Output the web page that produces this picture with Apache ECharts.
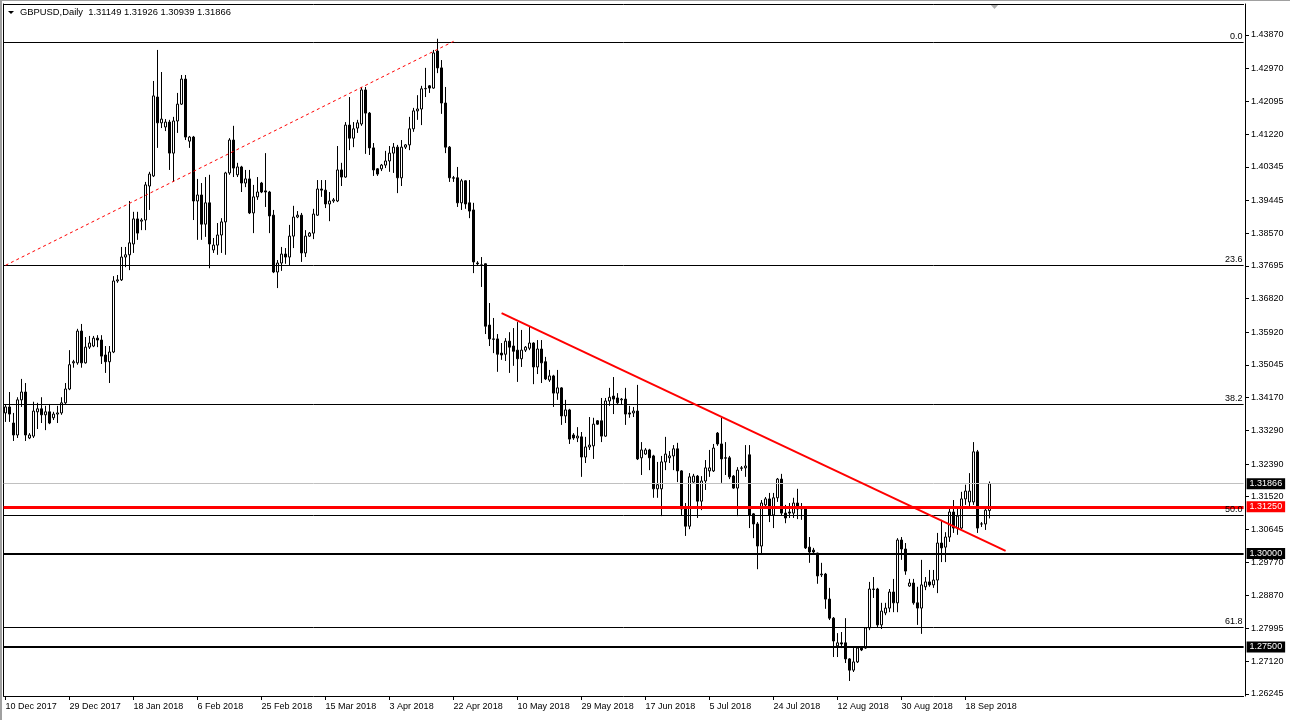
<!DOCTYPE html>
<html><head><meta charset="utf-8">
<script src="https://cdn.jsdelivr.net/npm/echarts@6/dist/echarts.min.js"></script>
<style>html,body{margin:0;padding:0;background:#fff;}#c{width:1290px;height:720px;}</style>
</head><body><div id="c"></div>
<script>
// ---- data ----
const headerText = 'GBPUSD,Daily  1.31149 1.31926 1.30939 1.31866';
const xLabels = ['10 Dec 2017','29 Dec 2017','18 Jan 2018','6 Feb 2018','25 Feb 2018','15 Mar 2018','3 Apr 2018','22 Apr 2018','10 May 2018','29 May 2018','17 Jun 2018','5 Jul 2018','24 Jul 2018','12 Aug 2018','30 Aug 2018','18 Sep 2018'];
const yTicks = [1.43870,1.42970,1.42095,1.41220,1.40345,1.39445,1.38570,1.37695,1.36820,1.35920,1.35045,1.34170,1.33290,1.32390,1.31520,1.30645,1.29770,1.28870,1.27995,1.27120,1.26245];
const yRange = [1.26188, 1.44699];
const totalSlots = 310;
// [open, close, low, high]
const ohlc = [
[1.3376,1.3392,1.3352,1.3398],[1.3392,1.3373,1.3352,1.3432],[1.3349,1.3317,1.3301,1.3376],[1.3317,1.3411,1.3309,1.3418],
[1.3411,1.3432,1.3392,1.3467],[1.3432,1.3317,1.3301,1.3456],[1.3309,1.3317,1.3306,1.3322],[1.3314,1.3381,1.3309,1.3406],
[1.3379,1.3387,1.3333,1.3403],[1.3387,1.3371,1.3349,1.3418],[1.3371,1.3379,1.3330,1.3395],[1.3379,1.3349,1.3346,1.3400],
[1.3363,1.3373,1.3357,1.3379],[1.3373,1.3376,1.3349,1.3395],[1.3376,1.3403,1.3371,1.3418],[1.3403,1.3440,1.3400,1.3456],
[1.3440,1.3505,1.3437,1.3544],[1.3510,1.3513,1.3497,1.3518],[1.3510,1.3595,1.3505,1.3601],[1.3595,1.3510,1.3497,1.3614],
[1.3510,1.3552,1.3508,1.3579],[1.3552,1.3563,1.3547,1.3582],[1.3555,1.3576,1.3552,1.3582],[1.3576,1.3571,1.3552,1.3584],
[1.3571,1.3528,1.3507,1.3584],[1.3531,1.3513,1.3483,1.3555],[1.3513,1.3539,1.3456,1.3555],[1.3539,1.3729,1.3536,1.3742],
[1.3729,1.3732,1.3724,1.3745],[1.3732,1.3793,1.3729,1.3820],[1.3793,1.3799,1.3766,1.3820],[1.3799,1.3831,1.3758,1.3943],
[1.3828,1.3895,1.3804,1.3914],[1.3895,1.3857,1.3839,1.3914],[1.3889,1.3892,1.3865,1.3897],[1.3892,1.3986,1.3865,1.3994],
[1.3983,1.4015,1.3919,1.4021],[1.4010,1.4224,1.4007,1.4264],[1.4221,1.4152,1.4085,1.4347],[1.4152,1.4162,1.4138,1.4288],
[1.4141,1.4154,1.4130,1.4162],[1.4154,1.4071,1.4026,1.4160],[1.4071,1.4157,1.3994,1.4168],[1.4157,1.4202,1.4125,1.4232],
[1.4202,1.4269,1.4200,1.4280],[1.4269,1.4114,1.4106,1.4280],[1.4103,1.4114,1.4085,1.4117],[1.4114,1.3943,1.3892,1.4117],
[1.3943,1.3959,1.3839,1.4002],[1.3959,1.3881,1.3839,1.3991],[1.3881,1.3938,1.3847,1.4007],[1.3938,1.3828,1.3763,1.4013],
[1.3812,1.3825,1.3804,1.3844],[1.3825,1.3852,1.3799,1.3884],[1.3852,1.3887,1.3804,1.3897],[1.3887,1.4018,1.3799,1.4021],
[1.4018,1.4106,1.4013,1.4111],[1.4106,1.4031,1.4007,1.4144],[1.4013,1.4034,1.4007,1.4045],[1.4034,1.3991,1.3967,1.4037],
[1.3991,1.4002,1.3980,1.4026],[1.4002,1.3911,1.3908,1.4026],[1.3911,1.3954,1.3857,1.3986],[1.3954,1.3967,1.3946,1.4007],
[1.3991,1.3967,1.3964,1.3994],[1.3970,1.3967,1.3927,1.4071],[1.3967,1.3903,1.3857,1.3970],[1.3905,1.3753,1.3750,1.3919],
[1.3753,1.3777,1.3710,1.3785],[1.3777,1.3801,1.3756,1.3820],[1.3801,1.3793,1.3775,1.3817],[1.3793,1.3849,1.3769,1.3879],
[1.3849,1.3900,1.3817,1.3930],[1.3900,1.3905,1.3897,1.3916],[1.3905,1.3804,1.3780,1.3911],[1.3804,1.3849,1.3793,1.3865],
[1.3849,1.3857,1.3847,1.3860],[1.3857,1.3908,1.3841,1.3922],[1.3905,1.3975,1.3903,1.3999],[1.3975,1.3972,1.3954,1.3999],
[1.3972,1.3935,1.3924,1.3999],[1.3935,1.3943,1.3889,1.3967],[1.3943,1.3946,1.3938,1.3951],[1.3943,1.4026,1.3940,1.4090],
[1.4026,1.4007,1.3983,1.4045],[1.4007,1.4146,1.4005,1.4154],[1.4146,1.4111,1.4079,1.4221],[1.4111,1.4136,1.4087,1.4154],
[1.4138,1.4152,1.4125,1.4160],[1.4149,1.4240,1.4144,1.4248],[1.4240,1.4178,1.4069,1.4248],[1.4178,1.4085,1.4066,1.4181],
[1.4085,1.4026,1.4010,1.4098],[1.4029,1.4015,1.4010,1.4031],[1.4029,1.4039,1.4023,1.4042],[1.4039,1.4050,1.4031,1.4077],
[1.4050,1.4071,1.4021,1.4090],[1.4071,1.4087,1.4018,1.4098],[1.4087,1.4005,1.3964,1.4093],[1.4005,1.4087,1.3983,1.4106],
[1.4087,1.4093,1.4082,1.4095],[1.4093,1.4136,1.4079,1.4168],[1.4136,1.4184,1.4128,1.4192],[1.4184,1.4189,1.4160,1.4226],
[1.4189,1.4243,1.4146,1.4251],[1.4243,1.4244,1.4221,1.4299],[1.4251,1.4245,1.4232,1.4253],[1.4245,1.4339,1.4243,1.4347],
[1.4344,1.4299,1.4285,1.4377],[1.4299,1.4205,1.4176,1.4320],[1.4205,1.4087,1.4071,1.4248],[1.4087,1.4005,1.3994,1.4090],
[1.4005,1.4004,1.3994,1.4010],[1.4005,1.3938,1.3927,1.4034],[1.3938,1.3997,1.3919,1.4002],[1.3997,1.3935,1.3922,1.3998],
[1.3938,1.3916,1.3897,1.3999],[1.3919,1.3780,1.3750,1.3938],[1.3777,1.3775,1.3769,1.3782],[1.3772,1.3771,1.3713,1.3793],
[1.3775,1.3608,1.3587,1.3776],[1.3611,1.3574,1.3555,1.3670],[1.3574,1.3573,1.3536,1.3630],[1.3574,1.3533,1.3486,1.3587],
[1.3536,1.3531,1.3518,1.3563],[1.3533,1.3568,1.3515,1.3576],[1.3568,1.3552,1.3483,1.3592],[1.3555,1.3541,1.3502,1.3603],
[1.3544,1.3521,1.3459,1.3619],[1.3521,1.3544,1.3499,1.3598],[1.3544,1.3552,1.3539,1.3555],[1.3549,1.3563,1.3544,1.3608],
[1.3563,1.3499,1.3453,1.3565],[1.3499,1.3547,1.3480,1.3571],[1.3547,1.3510,1.3456,1.3571],[1.3513,1.3467,1.3464,1.3526],
[1.3464,1.3475,1.3459,1.3491],[1.3475,1.3429,1.3392,1.3478],[1.3429,1.3443,1.3411,1.3491],[1.3443,1.3368,1.3344,1.3445],
[1.3368,1.3384,1.3349,1.3411],[1.3384,1.3306,1.3293,1.3387],[1.3317,1.3309,1.3304,1.3322],[1.3309,1.3314,1.3298,1.3338],
[1.3312,1.3258,1.3205,1.3325],[1.3258,1.3285,1.3242,1.3312],[1.3285,1.3290,1.3277,1.3365],[1.3288,1.3346,1.3253,1.3363],
[1.3355,1.3346,1.3344,1.3357],[1.3355,1.3314,1.3298,1.3416],[1.3314,1.3408,1.3312,1.3416],[1.3408,1.3418,1.3395,1.3443],
[1.3421,1.3413,1.3373,1.3472],[1.3416,1.3403,1.3398,1.3429],[1.3411,1.3413,1.3398,1.3416],[1.3413,1.3373,1.3344,1.3443],
[1.3376,1.3373,1.3363,1.3395],[1.3376,1.3381,1.3365,1.3392],[1.3381,1.3253,1.3250,1.3451],[1.3256,1.3277,1.3210,1.3298],
[1.3266,1.3277,1.3264,1.3282],[1.3277,1.3256,1.3223,1.3280],[1.3261,1.3173,1.3149,1.3264],[1.3173,1.3184,1.3149,1.3245],
[1.3173,1.3245,1.3100,1.3261],[1.3245,1.3266,1.3223,1.3312],[1.3256,1.3261,1.3242,1.3274],[1.3261,1.3280,1.3223,1.3290],
[1.3280,1.3221,1.3191,1.3296],[1.3221,1.3119,1.3103,1.3223],[1.3119,1.3073,1.3047,1.3135],[1.3073,1.3205,1.3065,1.3215],
[1.3191,1.3207,1.3189,1.3213],[1.3207,1.3140,1.3095,1.3210],[1.3140,1.3194,1.3116,1.3207],[1.3194,1.3229,1.3170,1.3250],
[1.3221,1.3229,1.3205,1.3277],[1.3221,1.3282,1.3218,1.3293],[1.3322,1.3293,1.3288,1.3325],[1.3293,1.3253,1.3189,1.3363],
[1.3256,1.3255,1.3210,1.3298],[1.3256,1.3205,1.3199,1.3261],[1.3207,1.3175,1.3173,1.3210],[1.3175,1.3223,1.3100,1.3231],
[1.3229,1.3228,1.3221,1.3234],[1.3229,1.3234,1.3205,1.3290],[1.3264,1.3103,1.3068,1.3290],[1.3106,1.3079,1.3041,1.3108],
[1.3079,1.3020,1.2958,1.3084],[1.3020,1.3135,1.2996,1.3143],[1.3130,1.3146,1.3124,1.3151],[1.3146,1.3103,1.3084,1.3162],
[1.3103,1.3149,1.3068,1.3162],[1.3149,1.3199,1.3138,1.3202],[1.3199,1.3108,1.3103,1.3213],[1.3108,1.3095,1.3081,1.3130],
[1.3111,1.3108,1.3095,1.3135],[1.3108,1.3135,1.3095,1.3149],[1.3135,1.3119,1.3092,1.3173],[1.3119,1.3122,1.3090,1.3135],
[1.3122,1.3015,1.3012,1.3124],[1.3017,1.3004,1.2975,1.3044],[1.3009,1.3004,1.2996,1.3015],[1.3001,1.2940,1.2919,1.3002],
[1.2943,1.2945,1.2937,1.2975],[1.2945,1.2878,1.2852,1.2948],[1.2878,1.2827,1.2822,1.2908],[1.2827,1.2766,1.2723,1.2830],
[1.2753,1.2761,1.2723,1.2787],[1.2761,1.2758,1.2747,1.2790],[1.2761,1.2718,1.2707,1.2827],[1.2718,1.2688,1.2659,1.2720],
[1.2688,1.2710,1.2683,1.2747],[1.2710,1.2747,1.2707,1.2750],[1.2747,1.2742,1.2739,1.2750],[1.2747,1.2801,1.2745,1.2803],
[1.2801,1.2905,1.2795,1.2924],[1.2905,1.2904,1.2881,1.2937],[1.2905,1.2809,1.2803,1.2908],[1.2809,1.2846,1.2798,1.2868],
[1.2841,1.2854,1.2835,1.2868],[1.2854,1.2897,1.2843,1.2905],[1.2897,1.2868,1.2843,1.2932],[1.2868,1.3036,1.2843,1.3041],
[1.3036,1.3012,1.2983,1.3044],[1.3012,1.2953,1.2943,1.3028],[1.2913,1.2921,1.2911,1.2932],[1.2921,1.2868,1.2863,1.2932],
[1.2868,1.2854,1.2809,1.2911],[1.2854,1.2916,1.2785,1.2983],[1.2911,1.2924,1.2902,1.2937],[1.2924,1.2916,1.2911,1.2956],
[1.2916,1.2929,1.2908,1.2956],[1.2929,1.3028,1.2894,1.3055],[1.3028,1.3015,1.2977,1.3090],[1.3017,1.3044,1.2977,1.3057],
[1.3044,1.3111,1.3031,1.3124],[1.3111,1.3068,1.3055,1.3143],[1.3068,1.3100,1.3050,1.3120],[1.3068,1.3146,1.3065,1.3165],
[1.3146,1.3167,1.3130,1.3184],[1.3138,1.3167,1.3124,1.3215],[1.3138,1.3272,1.3130,1.3298],[1.3272,1.3068,1.3055,1.3277],
[1.3079,1.3079,1.3071,1.3084],[1.3079,1.3116,1.3063,1.3124],[1.31149,1.31866,1.30939,1.31926]
];
const fibNames  = ['0.0','23.6','38.2','50.0','61.8'];
const fibValues = [1.4368,1.3771,1.3400,1.3103,1.2802];
const bidPrice = 1.31866;
const redLevel = 1.31250;
const blackLevels = [1.30000, 1.27500];
const dottedTrend = [[0,1.3771],[112,1.4370]];
const redTrend = [[124,1.3643],[250,1.3007]];

// ---- categories (trading days, Sunday-Friday) ----
const MON = ['Jan','Feb','Mar','Apr','May','Jun','Jul','Aug','Sep','Oct','Nov','Dec'];
const categories = [];
let t = Date.UTC(2017,11,10);
while (categories.length < totalSlots) {
  const d = new Date(t);
  const wd = d.getUTCDay(), m = d.getUTCMonth(), dd = d.getUTCDate();
  if (wd !== 6 && !(m === 11 && dd === 25) && !(m === 0 && dd === 1)) {
    categories.push(dd + ' ' + MON[m] + ' ' + d.getUTCFullYear());
  }
  t += 86400000;
}

const FONT = 'Liberation Sans';
const labelIdx = (i) => i % 16 === 0 && (i / 16) < xLabels.length;

const chart = echarts.init(document.getElementById('c'), null, {renderer:'canvas'});

const markData = [];
fibNames.forEach((n, k) => {
  markData.push({yAxis: fibValues[k], lineStyle:{color:'#000', width:1, type:'solid'},
    label:{show:true, position:'insideEndTop', formatter:n, color:'#000', fontSize:9, fontFamily:FONT, distance:[1,1]}});
});
markData.push({yAxis: bidPrice, lineStyle:{color:'#c0c0c0', width:1, type:'solid'},
  label:{show:true, position:'end', distance:3, formatter: bidPrice.toFixed(5), color:'#fff', backgroundColor:'#000', padding:[1,3,0,3], fontSize:9, fontFamily:FONT, lineHeight:10}});
markData.push({yAxis: redLevel, lineStyle:{color:'#ff0000', width:3, type:'solid'},
  label:{show:true, position:'end', distance:3, formatter: redLevel.toFixed(5), color:'#fff', backgroundColor:'#ff0000', padding:[1,3,0,3], fontSize:9, fontFamily:FONT, lineHeight:10}});
blackLevels.forEach(v => markData.push({yAxis: v, lineStyle:{color:'#000', width:2, type:'solid'},
  label:{show:true, position:'end', distance:3, formatter: v.toFixed(5), color:'#fff', backgroundColor:'#000', padding:[1,3,0,3], fontSize:9, fontFamily:FONT, lineHeight:10}}));
const dotStyle = {color:'#ff0000', width:1, type:[3,3]};
markData.push([{coord: dottedTrend[0], lineStyle: dotStyle, label:{show:false}}, {coord: dottedTrend[1], lineStyle: dotStyle, label:{show:false}}]);
const redStyle = {color:'#ff0000', width:2, type:'solid'};
markData.push([{coord: redTrend[0], lineStyle: redStyle, label:{show:false}}, {coord: redTrend[1], lineStyle: redStyle, label:{show:false}}]);

chart.setOption({
  animation:false,
  backgroundColor:'#ffffff',
  textStyle:{fontFamily:FONT},
  grid:{left:3.6, top:4, width:1240, bottom:24, containLabel:false},
  xAxis:[{
    type:'category', data:categories, boundaryGap:true,
    axisLine:{show:true, lineStyle:{color:'#000', width:1}},
    axisTick:{show:true, length:4, alignWithLabel:true, interval:(i)=>labelIdx(i), lineStyle:{color:'#000'}},
    axisLabel:{show:true, interval:(i)=>labelIdx(i), formatter:(v,i)=>labelIdx(i)?xLabels[i/16]:'', align:'left', color:'#000', fontSize:9, fontFamily:FONT, margin:6},
    splitLine:{show:false}
  },{
    type:'category', position:'top', data:categories, boundaryGap:true,
    axisLine:{show:true, lineStyle:{color:'#000', width:1}}, axisTick:{show:false}, axisLabel:{show:false}, splitLine:{show:false}
  }],
  yAxis:[{
    type:'value', position:'right', min:yRange[0], max:yRange[1], offset:1.4,
    axisLine:{show:true, lineStyle:{color:'#000', width:1}},
    axisTick:{show:true, length:4, customValues:yTicks, lineStyle:{color:'#000'}},
    axisLabel:{show:true, customValues:yTicks, formatter:(v)=>v.toFixed(5), color:'#000', fontSize:9, fontFamily:FONT, margin:6},
    splitLine:{show:false}
  },{
    type:'value', position:'left', min:yRange[0], max:yRange[1],
    axisLine:{show:true, lineStyle:{color:'#000', width:1}}, axisTick:{show:false}, axisLabel:{show:false}, splitLine:{show:false}
  }],
  series:[{
    type:'candlestick', xAxisIndex:0, yAxisIndex:0, data:ohlc, barWidth:3,
    itemStyle:{color:'#ffffff', color0:'#000000', borderColor:'#000000', borderColor0:'#000000', borderWidth:1},
    emphasis:{disabled:true},
    markLine:{symbol:['none','none'], silent:true, animation:false, precision:5, data:markData}
  }],
  graphic:[
    {type:'rect', left:0, top:0, shape:{width:2, height:720}, style:{fill:'#a0a0a0'}, silent:true},
    {type:'rect', left:0, top:0, shape:{width:1290, height:1}, style:{fill:'#a0a0a0'}, silent:true},
    {type:'polygon', shape:{points:[[8,11],[14,11],[11,14]]}, style:{fill:'#000'}, silent:true},
    {type:'text', left:20, top:8, style:{text:headerText, font:'9.4px "Liberation Sans"', fill:'#000'}, silent:true},
    {type:'polygon', shape:{points:[[990,4],[999,4],[994.5,9]]}, style:{fill:'#b0b0b0'}, silent:true}
  ]
});
</script>
</body></html>
